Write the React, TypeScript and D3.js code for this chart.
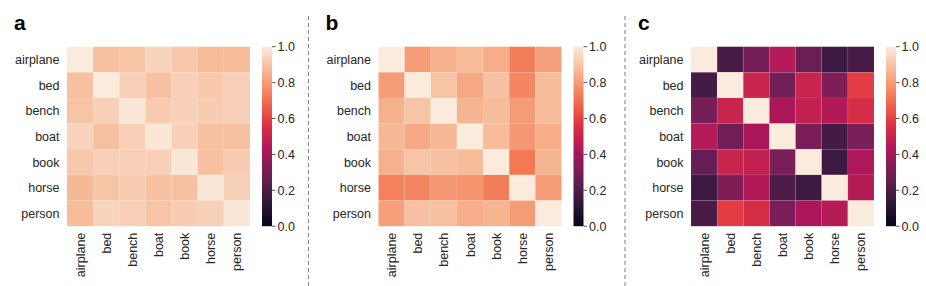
import * as d3 from 'd3';

const categories = ['airplane', 'bed', 'bench', 'boat', 'book', 'horse', 'person'];
const panelLabels = ['a', 'b', 'c'];
const colorbarTicks = [0, 0.2, 0.4, 0.6, 0.8, 1.0];

// similarity matrices, rows then columns in category order
const simA = [
  [1.0, 0.89, 0.9, 0.94, 0.91, 0.88, 0.88],
  [0.89, 1.0, 0.93, 0.89, 0.93, 0.91, 0.93],
  [0.9, 0.93, 0.99, 0.92, 0.93, 0.92, 0.93],
  [0.94, 0.89, 0.93, 0.99, 0.93, 0.89, 0.89],
  [0.91, 0.93, 0.93, 0.93, 0.99, 0.89, 0.92],
  [0.87, 0.9, 0.92, 0.89, 0.89, 0.99, 0.93],
  [0.88, 0.94, 0.93, 0.9, 0.92, 0.93, 0.99],
];

const simB = [
  [1.0, 0.8, 0.85, 0.88, 0.84, 0.73, 0.81],
  [0.8, 1.0, 0.9, 0.83, 0.89, 0.75, 0.88],
  [0.85, 0.9, 1.0, 0.86, 0.88, 0.8, 0.88],
  [0.87, 0.83, 0.87, 1.0, 0.88, 0.79, 0.84],
  [0.85, 0.9, 0.89, 0.88, 1.0, 0.72, 0.86],
  [0.74, 0.75, 0.79, 0.78, 0.73, 1.0, 0.8],
  [0.81, 0.89, 0.89, 0.84, 0.86, 0.8, 1.0],
];

const simC = [
  [1.0, 0.19, 0.3, 0.45, 0.27, 0.16, 0.19],
  [0.18, 1.0, 0.5, 0.29, 0.5, 0.32, 0.59],
  [0.3, 0.5, 1.0, 0.42, 0.48, 0.44, 0.54],
  [0.45, 0.29, 0.42, 1.0, 0.31, 0.18, 0.31],
  [0.26, 0.5, 0.48, 0.31, 1.0, 0.16, 0.43],
  [0.16, 0.32, 0.44, 0.2, 0.16, 1.0, 0.45],
  [0.19, 0.59, 0.54, 0.31, 0.42, 0.45, 1.0],
];

const matrices = [simA, simB, simC];

// seaborn "rocket" colormap, sampled
const rocketStops = [0, 1 / 7, 2 / 7, 3 / 7, 4 / 7, 5 / 7, 6 / 7, 1];
const rocketColors = ['#03051a', '#35193e', '#701f57', '#ad1759', '#e13342', '#f37651', '#f6b48f', '#faebdd'];

const W = 926;
const H = 286;
const FONT = '"Liberation Sans", Arial, Helvetica, sans-serif';
const TEXT = '#262626';
const FS = 12.5;

const color = d3.scaleLinear<string>()
  .domain(rocketStops)
  .range(rocketColors)
  .interpolate(d3.interpolateRgb)
  .clamp(true);

const panelLeft = [67, 378.5, 691];
const top = 46.7;
const mapW = 183;
const mapH = 179.5;
const dividers = [308.5, 625];

function Heatmap({ data, left, label }: { data: number[][]; left: number; label: string }) {
  const x = d3.scaleBand().domain(categories).range([left, left + mapW]);
  const y = d3.scaleBand().domain(categories).range([top, top + mapH]);
  const cbX = left + 195;
  const cbW = 10;
  const cy = d3.scaleLinear().domain([0, 1]).range([top + mapH, top]);
  const gid = `grad-${label}`;

  return (
    <g>
      <text x={left - 53} y={29.5} fontSize={21} fontWeight="bold" fill="#000" fontFamily={FONT}>
        {label}
      </text>
      {data.map((row, i) =>
        row.map((v, j) => (
          <rect
            key={`${i}-${j}`}
            x={x(categories[j])!}
            y={y(categories[i])!}
            width={x.bandwidth()}
            height={y.bandwidth()}
            fill={color(v)}
            stroke="rgba(255,255,255,0.1)"
            strokeWidth={0.6}
          />
        ))
      )}
      {categories.map(c => (
        <text
          key={`yl-${c}`}
          x={left - 7.5}
          y={y(c)! + y.bandwidth() / 2}
          dy="0.36em"
          textAnchor="end"
          fontSize={FS}
          fill={TEXT}
          fontFamily={FONT}
        >
          {c}
        </text>
      ))}
      {categories.map(c => {
        const cx = x(c)! + x.bandwidth() / 2;
        const ty = top + mapH + 6.5;
        return (
          <text
            key={`xl-${c}`}
            transform={`translate(${cx},${ty}) rotate(-90)`}
            dy="0.36em"
            textAnchor="end"
            fontSize={FS}
            fill={TEXT}
            fontFamily={FONT}
          >
            {c}
          </text>
        );
      })}
      <defs>
        <linearGradient id={gid} x1="0" y1="1" x2="0" y2="0">
          {d3.range(0, 1.0001, 0.05).map(t => (
            <stop key={t} offset={t} stopColor={color(t)} />
          ))}
        </linearGradient>
      </defs>
      <rect x={cbX} y={top} width={cbW} height={mapH} fill={`url(#${gid})`} />
      {colorbarTicks.map(t => (
        <g key={`cb-${t}`}>
          <line x1={cbX + cbW} x2={cbX + cbW + 3.5} y1={cy(t)} y2={cy(t)} stroke={TEXT} strokeWidth={0.8} />
          <text x={cbX + cbW + 5.5} y={cy(t)} dy="0.36em" fontSize={FS} fill={TEXT} fontFamily={FONT}>
            {t.toFixed(1)}
          </text>
        </g>
      ))}
    </g>
  );
}

export default function App() {
  return (
    <svg width={W} height={H} style={{ position: 'absolute', left: 0, top: 0, background: '#fff' }}>
      <rect width={W} height={H} fill="#fff" />
      {dividers.map(d => (
        <line key={d} x1={d} x2={d} y1={16} y2={H} stroke="#8c8c8c" strokeWidth={1.1} strokeDasharray="4,3" />
      ))}
      {matrices.map((m, k) => (
        <Heatmap key={k} data={m} left={panelLeft[k]} label={panelLabels[k]} />
      ))}
    </svg>
  );
}
